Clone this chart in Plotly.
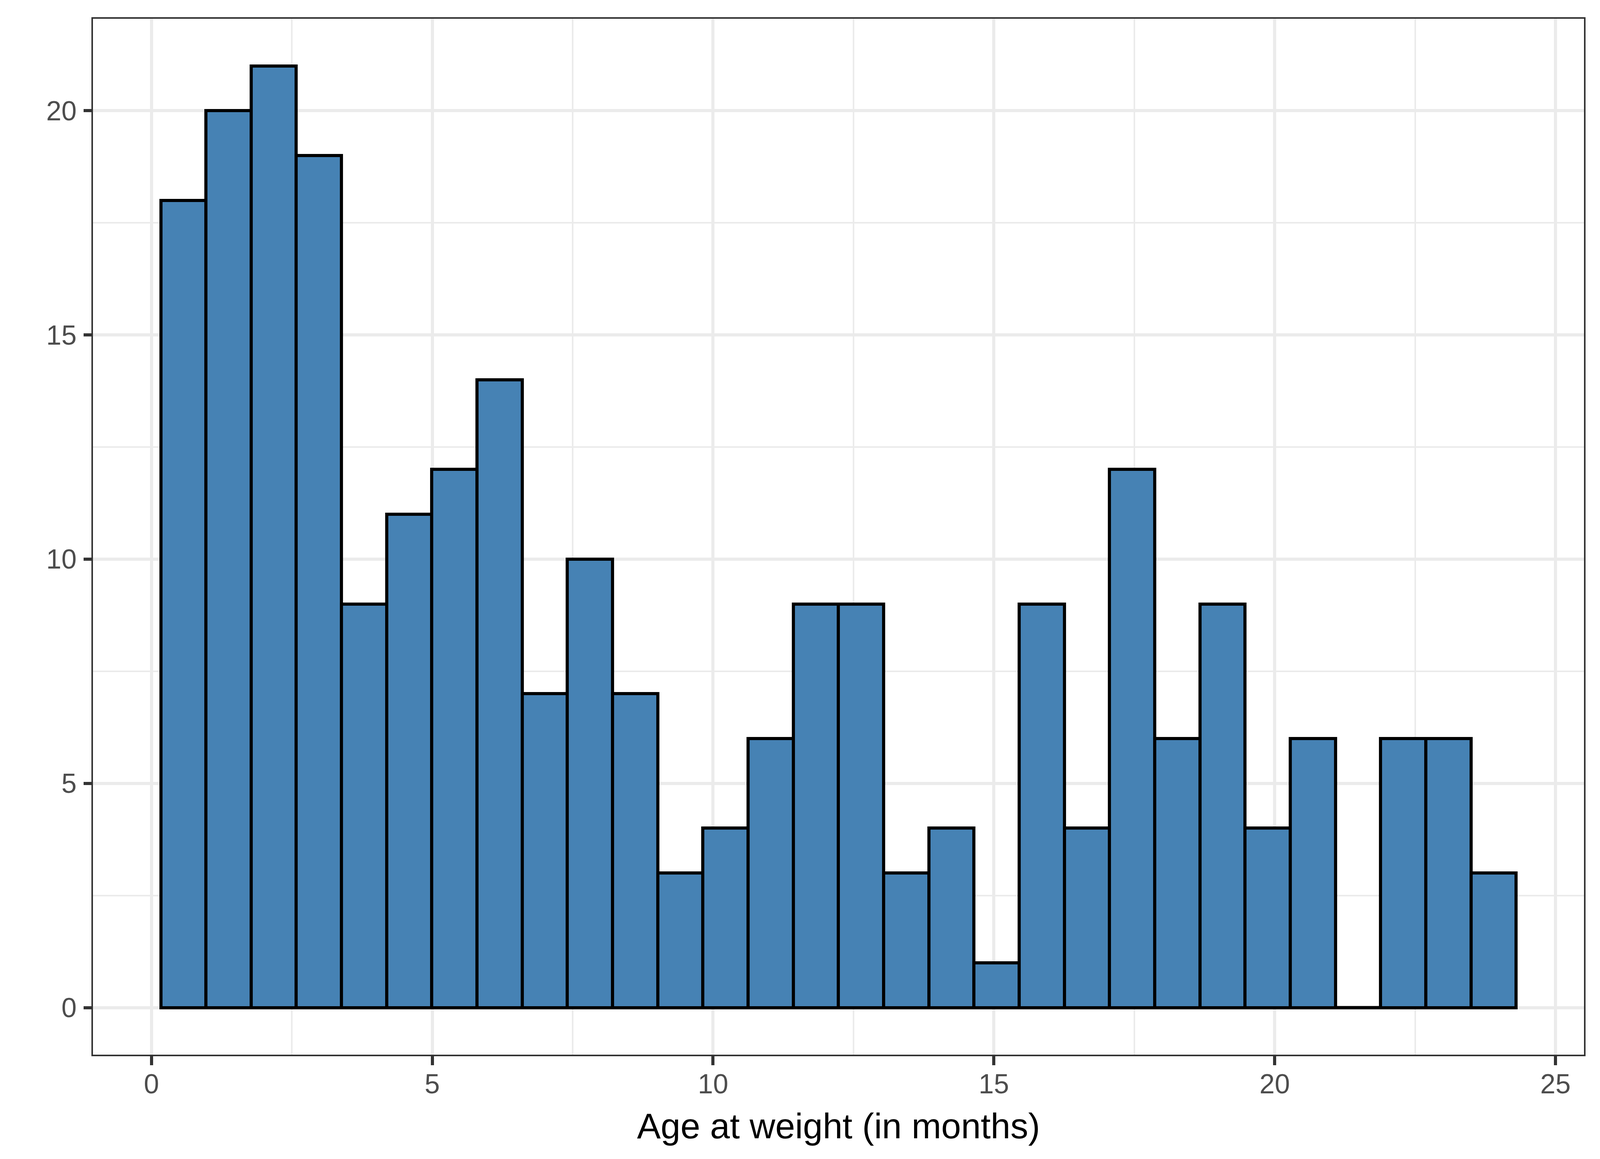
import plotly.graph_objects as go

# Histogram of age at weight (months): 30 bins
bin_start = 0.166
bin_width = 0.8045
counts = [18, 20, 21, 19, 9, 11, 12, 14, 7, 10, 7, 3, 4, 6, 9, 9, 3, 4, 1, 9, 4, 12, 6, 9, 4, 6, 0, 6, 6, 3]
x_ticks = [0, 5, 10, 15, 20, 25]
y_ticks = [0, 5, 10, 15, 20]
x_title = "Age at weight (in months)"

FONT = "Liberation Sans, Arial, sans-serif"

centers = [bin_start + bin_width * (i + 0.5) for i in range(len(counts))]

fig = go.Figure()
fig.add_trace(go.Bar(
    x=centers, y=counts, width=bin_width,
    marker=dict(color="#4682B4", line=dict(color="black", width=8)),
    showlegend=False, hoverinfo="x+y",
))

# zero-count bins are drawn as a flat outline at 0 (as ggplot does)
for i, c in enumerate(counts):
    if c == 0:
        l = bin_start + bin_width * i
        fig.add_trace(go.Scatter(
            x=[l, l + bin_width], y=[0, 0], mode="lines",
            line=dict(color="black", width=8), showlegend=False, hoverinfo="skip",
        ))

xmin = bin_start
xmax = bin_start + bin_width * len(counts)
xr = xmax - xmin
ymax = max(counts)

axis_common = dict(
    showline=True, mirror=True, linecolor="#333333", linewidth=4,
    ticks="outside", tickwidth=8, tickcolor="#333333",
    showgrid=True, gridcolor="#EBEBEB", gridwidth=8,
    zeroline=False,
    tickfont=dict(family=FONT, size=70, color="#4D4D4D"),
)
minor_grid = dict(dtick=2.5, tick0=0, showgrid=True, gridcolor="#EBEBEB", gridwidth=4, ticks="")

fig.update_layout(
    autosize=True,
    margin=dict(l=0, r=0, t=0, b=0, pad=0, autoexpand=False),
    paper_bgcolor="white", plot_bgcolor="white",
    bargap=0,
    xaxis=dict(
        domain=[279 / 4800, 4752 / 4800],
        range=[xmin - 0.05 * xr, xmax + 0.05 * xr],
        tickvals=x_ticks, ticklen=23, ticklabelstandoff=-12,
        minor=minor_grid,
        title=dict(text=x_title, font=dict(family=FONT, size=91, color="black"), standoff=38),
        **axis_common,
    ),
    yaxis=dict(
        domain=[(2966 - 2699) / 2966, (2966 - 48) / 2966],
        range=[-0.05 * ymax, ymax * 1.05],
        tickvals=y_ticks, ticklen=20, ticklabelstandoff=4,
        minor=minor_grid,
        **axis_common,
    ),
)

post = (
    "document.body.style.margin='0';document.body.style.overflow='hidden';"
    "Plotly.Plots.resize(document.getElementById('{plot_id}'));"
)
fig.write_html("out.html", default_width="100vw", default_height="100vh",
               config={"responsive": True, "displayModeBar": False}, post_script=post)
